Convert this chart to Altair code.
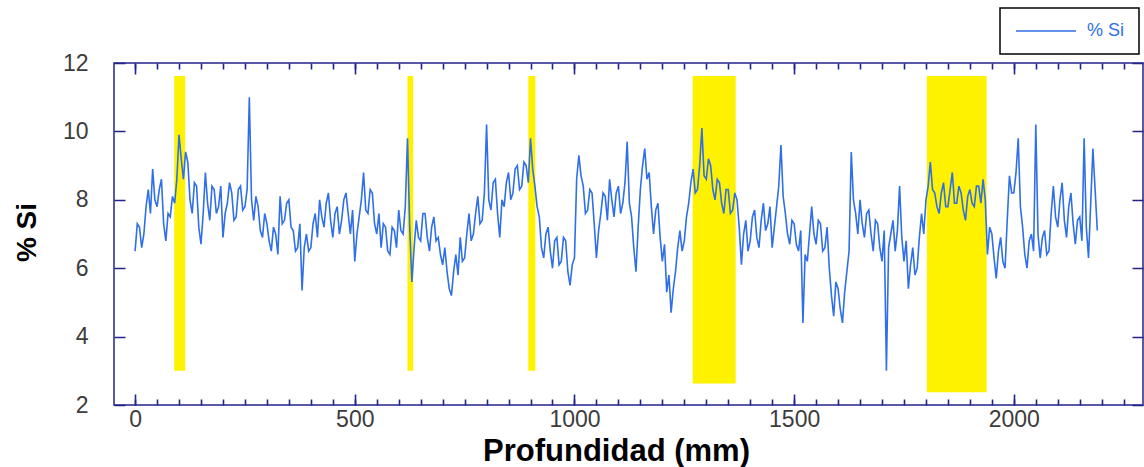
import altair as alt
import pandas as pd

# ---------------- data (5 mm steps) ----------------
depth_mm = list(range(0, 2195, 5))
si_pct = [
    6.5, 7.3, 7.2, 6.6, 7.0, 7.8, 8.3, 7.6, 8.9, 8.0, 7.8, 8.3, 8.6, 7.3, 6.8, 7.6, 7.5, 8.1, 7.9, 8.6,    # 0-95
    9.9, 9.2, 8.6, 9.4, 9.1, 8.0, 7.6, 8.5, 8.4, 7.2, 6.7, 7.6, 8.8, 7.9, 7.4, 8.4, 8.3, 7.6, 7.8, 8.4,    # 100-195
    6.9, 7.6, 7.9, 8.5, 8.2, 7.4, 7.5, 8.3, 8.4, 7.7, 7.8, 8.3, 11.0, 8.0, 7.4, 8.1, 7.8, 7.1, 6.9, 7.6,   # 200-295
    7.3, 6.8, 6.5, 7.2, 7.0, 6.4, 8.1, 7.3, 7.4, 7.9, 8.0, 7.2, 7.1, 6.5, 6.6, 7.3, 5.35, 6.6, 7.0, 6.5,   # 300-395
    6.6, 7.3, 7.6, 6.9, 8.0, 7.5, 7.2, 7.9, 8.2, 7.4, 6.9, 7.6, 7.8, 7.0, 7.4, 8.0, 8.2, 7.6, 7.0, 7.7,    # 400-495
    6.2, 7.0, 7.5, 8.0, 8.8, 7.7, 7.6, 8.3, 8.2, 7.3, 7.0, 7.6, 6.6, 7.3, 7.2, 6.5, 6.4, 7.2, 7.1, 6.6,    # 500-595
    7.7, 7.1, 7.0, 7.8, 9.8, 7.2, 5.6, 6.6, 7.4, 6.9, 6.8, 7.6, 7.6, 6.9, 6.5, 7.2, 7.5, 6.8, 6.9, 6.4,    # 600-695
    6.1, 6.6, 5.9, 5.4, 5.2, 5.9, 6.4, 5.8, 6.9, 6.2, 6.3, 7.0, 7.6, 6.8, 7.0, 7.6, 8.1, 7.3, 7.4, 8.2,    # 700-795
    10.2, 8.0, 7.7, 8.5, 8.6, 7.6, 6.9, 8.0, 7.8, 8.5, 8.8, 8.0, 8.2, 8.9, 9.0, 8.3, 8.4, 9.1, 9.0, 8.5,   # 800-895
    9.8, 8.9, 8.4, 7.8, 7.5, 6.6, 6.3, 7.0, 7.2, 6.5, 6.0, 6.8, 6.9, 6.1, 6.2, 6.9, 6.8, 5.9, 5.5, 6.1,    # 900-995
    6.3, 8.6, 9.3, 8.7, 8.4, 7.6, 7.7, 8.3, 8.2, 7.3, 6.3, 7.1, 7.6, 8.2, 8.1, 7.4, 8.6, 8.0, 7.5, 8.2,    # 1000-1095
    8.4, 7.6, 7.9, 8.5, 9.7, 7.9, 7.5, 6.6, 5.9, 7.2, 8.3, 9.0, 9.5, 8.6, 8.8, 7.8, 7.0, 7.7, 7.9, 6.9,    # 1100-1195
    6.2, 6.7, 5.3, 5.8, 4.7, 5.4, 5.9, 6.6, 7.1, 6.5, 6.8, 7.5, 7.9, 8.5, 8.9, 8.2, 8.3, 9.0, 10.1, 8.7,   # 1200-1295
    8.6, 9.2, 9.0, 8.3, 8.0, 8.6, 8.5, 7.9, 7.6, 8.3, 8.3, 7.6, 7.7, 8.2, 8.0, 7.2, 6.1, 7.0, 7.4, 6.5,    # 1300-1395
    6.8, 7.5, 7.7, 6.9, 6.6, 7.4, 7.9, 7.1, 7.3, 7.8, 6.6, 7.2, 7.8, 8.4, 9.6, 8.1, 7.6, 7.0, 6.7, 7.4,    # 1400-1495
    7.3, 6.7, 6.5, 7.1, 4.4, 6.4, 6.2, 7.0, 7.8, 7.0, 6.7, 7.4, 7.3, 6.5, 6.6, 7.2, 6.0, 5.2, 4.6, 5.6,    # 1500-1595
    5.4, 4.8, 4.4, 5.3, 5.9, 6.5, 9.4, 8.0, 7.6, 7.0, 8.0, 7.3, 6.9, 7.6, 7.7, 7.0, 6.5, 7.4, 7.3, 6.6,    # 1600-1695
    6.2, 7.1, 3.0, 6.6, 7.0, 7.4, 6.5, 7.1, 8.4, 6.9, 6.2, 6.8, 5.4, 6.1, 6.6, 5.8, 6.0, 6.9, 7.6, 7.0,    # 1700-1795
    8.0, 8.4, 9.1, 8.3, 8.2, 7.8, 7.6, 8.2, 8.5, 7.8, 7.8, 8.3, 8.8, 7.9, 7.9, 8.4, 8.2, 7.7, 7.4, 8.1,    # 1800-1895
    8.3, 7.9, 7.8, 8.4, 8.4, 7.9, 8.6, 8.0, 6.4, 7.2, 7.0, 6.3, 5.7, 6.5, 6.9, 6.2, 6.0, 7.4, 8.7, 8.2,    # 1900-1995
    8.2, 8.8, 9.8, 7.8, 7.2, 6.4, 6.0, 6.8, 7.0, 6.5, 10.2, 7.0, 6.3, 6.9, 7.1, 6.4, 6.5, 7.6, 8.4, 7.5,   # 2000-2095
    7.2, 8.0, 8.5, 7.4, 6.9, 7.8, 8.2, 7.3, 6.7, 7.4, 7.5, 6.8, 9.8, 7.2, 6.3, 7.9, 9.5, 8.3, 7.1,         # 2100-2190
]
assert len(depth_mm) == len(si_pct)

band_start = [89, 620, 895, 1269, 1802]
band_end = [114, 633, 911, 1367, 1938]
band_low = [3.0, 3.0, 3.0, 2.63, 2.37]
band_high = [11.62, 11.62, 11.62, 11.62, 11.62]

series_name = ["% Si"]
x_major = [0, 500, 1000, 1500, 2000]
x_minor = list(range(0, 2300, 50))
y_ticks = [2, 4, 6, 8, 10, 12]

# ---------------- styling ----------------
FONT = "Liberation Sans"
NAVY = "#23238c"
BLUE = "#2f6fe8"
YELLOW = "#fff200"
LABEL = "#3c3c3c"
PLOT_W, PLOT_H = 1029, 342

df_line = pd.DataFrame({"depth": depth_mm, "si": si_pct, "series": series_name[0]})
df_band = pd.DataFrame({"start": band_start, "end": band_end,
                        "low": band_low, "high": band_high})

xscale = alt.Scale(domain=[-48, 2294], nice=False, zero=False)
yscale = alt.Scale(domain=[2, 12], nice=False, zero=False)

# inward tick marks on all four sides are drawn as dashed grid lines whose
# dash pattern leaves only a short piece at each end of the plot frame
bands = alt.Chart(df_band).mark_rect(color=YELLOW).encode(
    x=alt.X("start:Q", scale=xscale, axis=alt.Axis(
        orient="bottom", values=x_major, format="d", ticks=False, tickSize=0,
        domain=False, grid=True, gridColor=NAVY, gridWidth=1.6,
        gridDash=[11, PLOT_H - 22], gridOpacity=1,
        labelPadding=3, labelFontSize=23,
        labelFont=FONT, labelColor=LABEL, labelFlush=False,
        title="Profundidad (mm)", titleFont=FONT, titleFontSize=31,
        titleFontWeight="bold", titleColor="black", titleX=502, titleY=46,
        titleBaseline="middle")),
    x2="end:Q",
    y=alt.Y("low:Q", scale=yscale, axis=alt.Axis(
        orient="left", values=y_ticks, ticks=False, tickSize=0, domain=False,
        grid=True, gridColor=NAVY, gridWidth=1.6, gridOpacity=1,
        gridDash=[11, PLOT_W - 22],
        labelPadding=26, labelFontSize=23, labelFont=FONT,
        labelColor=LABEL, title="% Si", titleFont=FONT, titleFontSize=28,
        titleFontWeight="bold", titleColor="black", titleX=-87, titleY=169,
        titleBaseline="middle", titleAlign="center", titleAngle=270)),
    y2="high:Q",
)

line = alt.Chart(df_line).mark_line(strokeWidth=1.6).encode(
    x=alt.X("depth:Q", scale=xscale, axis=alt.Axis(
        orient="bottom", values=x_minor, ticks=False, tickSize=0, labels=False,
        domain=False, grid=True, gridColor=NAVY, gridWidth=1.6, gridOpacity=1,
        gridDash=[6, PLOT_H - 12], title=None)),
    y=alt.Y("si:Q", scale=yscale, axis=None),
    color=alt.Color("series:N", scale=alt.Scale(domain=series_name, range=[BLUE]),
                    legend=alt.Legend(title="\u00a0\u00a0\u00a0\u00a0\u00a0",
                                      titleOrient="right", titlePadding=0,
                                      titleFontSize=18, titleFont=FONT,
                                      orient="none", legendX=886,
                                      legendY=-55, strokeColor="black",
                                      fillColor="white",
                                      padding=14, symbolType="M-4,0H4",
                                      symbolSize=225, symbolStrokeWidth=1.5,
                                      symbolOffset=23, labelOffset=32,
                                      labelFontSize=18, labelFont=FONT,
                                      labelColor=BLUE)),
)

chart = (
    alt.layer(bands, line)
    .resolve_axis(x="independent", y="independent")
    .properties(width=PLOT_W, height=PLOT_H, background="white",
                padding={"left": 114, "top": 63, "right": 1, "bottom": 62},
                autosize=alt.AutoSizeParams(type="none"))
    .configure_view(stroke=NAVY, strokeWidth=1.5)
    .configure_legend(strokeWidth=1.5)
)

chart.save("out.html", embed_options={"renderer": "svg", "actions": False})
